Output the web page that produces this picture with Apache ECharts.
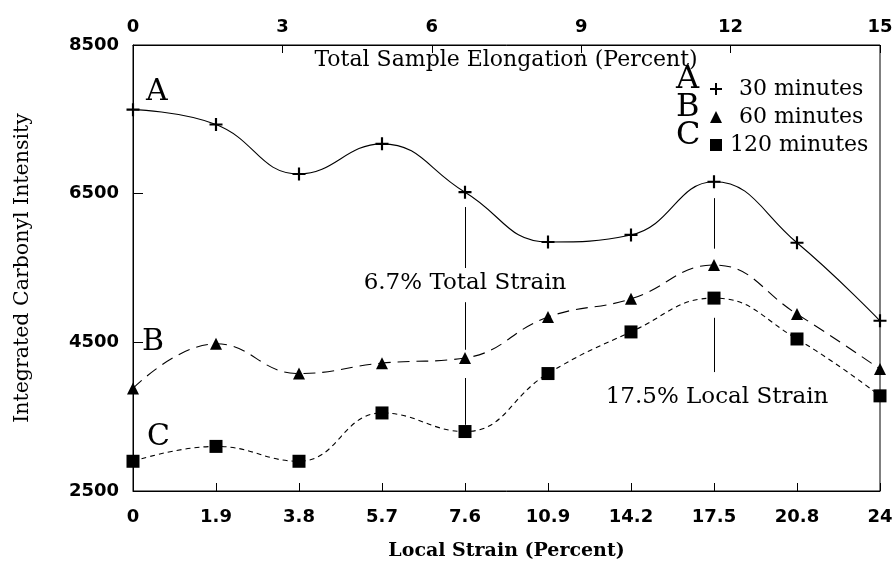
<!DOCTYPE html>
<html>
<head>
<meta charset="utf-8">
<script src="https://cdn.jsdelivr.net/npm/echarts@6/dist/echarts.min.js"></script>
<style>html,body{margin:0;padding:0;background:#fff}#c{width:895px;height:566px}</style>
</head>
<body>
<div id="c"></div>
<script>
// ---- data ----
const localStrain = ['0', '1.9', '3.8', '5.7', '7.6', '10.9', '14.2', '17.5', '20.8', '24'];
const seriesA = [7630, 7430, 6765, 7170, 6520, 5850, 5945, 6660, 5840, 4790]; // 30 minutes
const seriesB = [3880, 4480, 4080, 4220, 4290, 4840, 5085, 5540, 4880, 4140]; // 60 minutes
const seriesC = [2900, 3100, 2900, 3550, 3300, 4080, 4640, 5095, 4545, 3780]; // 120 minutes
const yTicks = [2500, 4500, 6500, 8500];
const elongTicks = [0, 3, 6, 9, 12, 15];
// annotation segment ends (value units)
const annot76 = [[6320, 5500], [5040, 4400], [4020, 3390]];
const annot175 = [[6440, 5760], [4830, 4100]];

const SERIF = '"DejaVu Serif", serif';
const SANS = '"DejaVu Sans", sans-serif';
const plusPath = 'path://M-1,-6L1,-6L1,-1L6,-1L6,1L1,1L1,6L-1,6L-1,1L-6,1L-6,-1L-1,-1Z';

const chart = echarts.init(document.getElementById('c'), null, {renderer: 'canvas'});

function segs(cat, list) {
  return list.map(p => [{coord: [cat, p[0]]}, {coord: [cat, p[1]]}]);
}

const option = {
  animation: false,
  backgroundColor: '#fff',
  grid: {left: 133, right: 15, top: 45, bottom: 75, containLabel: false, outerBoundsMode: 'none',
    show: true, borderColor: '#000', borderWidth: 1, backgroundColor: 'transparent'},
  xAxis: [
    {
      type: 'category', position: 'bottom', data: localStrain, boundaryGap: false,
      axisLine: {lineStyle: {color: '#000', width: 1}},
      axisTick: {inside: true, length: 8, lineStyle: {color: '#000'}},
      axisLabel: {color: '#000', fontFamily: SANS, fontWeight: 'bold', fontSize: 18, margin: 17},
      name: 'Local Strain (Percent)', nameLocation: 'middle', nameGap: 51,
      nameTextStyle: {color: '#000', fontFamily: SERIF, fontWeight: 'bold', fontSize: 19},
      splitLine: {show: false}
    },
    {
      type: 'value', position: 'top', min: elongTicks[0], max: elongTicks[elongTicks.length - 1], interval: 3,
      axisLine: {show: true, lineStyle: {color: '#000', width: 1}},
      axisTick: {show: true, inside: true, length: 8, lineStyle: {color: '#000'}},
      axisLabel: {color: '#000', fontFamily: SANS, fontWeight: 'bold', fontSize: 18, margin: 9},
      splitLine: {show: false}
    }
  ],
  yAxis: {
    type: 'value', min: yTicks[0], max: yTicks[yTicks.length - 1], interval: 2000,
    axisLine: {show: true, lineStyle: {color: '#000', width: 1}},
    axisTick: {show: true, inside: true, length: 10, lineStyle: {color: '#000'}},
    axisLabel: {color: '#000', fontFamily: SANS, fontWeight: 'bold', fontSize: 18, margin: 14,
      formatter: v => String(v)},
    name: 'Integrated Carbonyl Intensity', nameLocation: 'middle', nameGap: 100,
    nameTextStyle: {color: '#000', fontFamily: SERIF, fontSize: 20.5},
    splitLine: {show: false}
  },
  legend: {
    orient: 'vertical', left: 705, top: 73, itemWidth: 12, itemHeight: 12, itemGap: 6,
    textStyle: {color: '#000', fontFamily: SERIF, fontSize: 22, lineHeight: 22},
    data: [
      {name: '30 minutes', icon: plusPath, textStyle: {padding: [0, 0, 0, 12]}},
      {name: '60 minutes', icon: 'triangle', textStyle: {padding: [0, 0, 0, 12]}},
      {name: '120 minutes', icon: 'rect', textStyle: {padding: [0, 0, 0, 3]}}
    ]
  },
  series: [
    {
      name: '30 minutes', type: 'line', data: seriesA, smooth: 0.45,
      symbol: plusPath, symbolSize: 13,
      itemStyle: {color: '#000'}, lineStyle: {color: '#000', width: 1.1, type: 'solid'},
      markLine: {silent: true, symbol: 'none', label: {show: false},
        lineStyle: {color: '#000', width: 1, type: 'solid'},
        data: segs('7.6', annot76).concat(segs('17.5', annot175))}
    },
    {
      name: '60 minutes', type: 'line', data: seriesB, smooth: 0.45,
      symbol: 'triangle', symbolSize: 12,
      itemStyle: {color: '#000'}, lineStyle: {color: '#000', width: 1.1, type: [12, 7]}
    },
    {
      name: '120 minutes', type: 'line', data: seriesC, smooth: 0.45,
      symbol: 'rect', symbolSize: 13,
      itemStyle: {color: '#000'}, lineStyle: {color: '#000', width: 1.1, type: [5, 4]}
    }
  ],
  graphic: [
    {type: 'text', x: 506, y: 60, style: {text: 'Total Sample Elongation (Percent)', font: '22px ' + SERIF, fill: '#000', align: 'center', verticalAlign: 'middle'}},
    {type: 'text', left: 146, top: 77, style: {text: 'A', font: '30px ' + SERIF, fill: '#000'}},
    {type: 'text', left: 142, top: 327, style: {text: 'B', font: '30px ' + SERIF, fill: '#000'}},
    {type: 'text', left: 147, top: 422, style: {text: 'C', font: '30px ' + SERIF, fill: '#000'}},
    {type: 'text', left: 676, top: 64, style: {text: 'A', font: '32px ' + SERIF, fill: '#000'}},
    {type: 'text', left: 676, top: 92, style: {text: 'B', font: '32px ' + SERIF, fill: '#000'}},
    {type: 'text', left: 676, top: 120, style: {text: 'C', font: '32px ' + SERIF, fill: '#000'}},
    {type: 'text', x: 465, y: 283, style: {text: '6.7% Total Strain', font: '23px ' + SERIF, fill: '#000', align: 'center', verticalAlign: 'middle'}},
    {type: 'text', x: 717, y: 397, style: {text: '17.5% Local Strain', font: '23px ' + SERIF, fill: '#000', align: 'center', verticalAlign: 'middle'}}
  ]
};
chart.setOption(option);
</script>
</body>
</html>
